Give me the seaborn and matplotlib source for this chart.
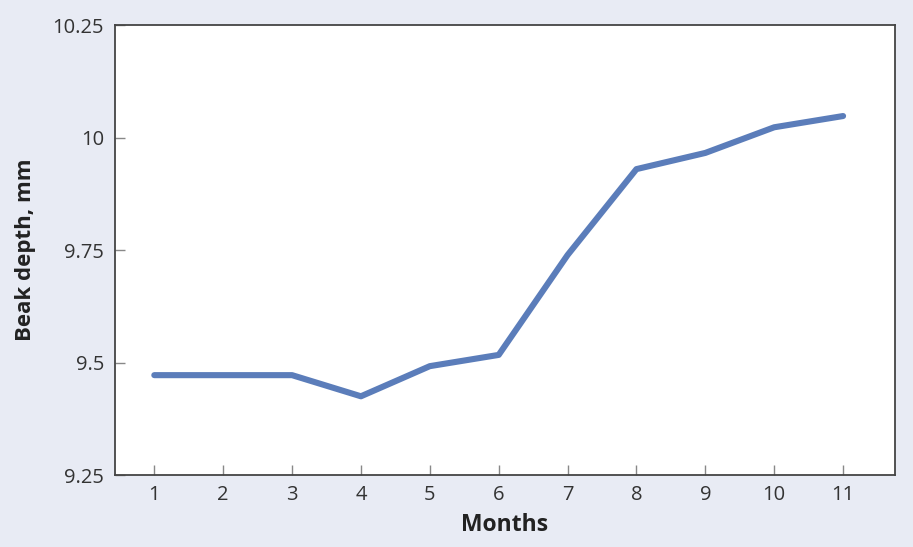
import numpy as np
import pandas as pd
import seaborn as sns
import matplotlib.pyplot as plt

months = [1, 2, 3, 4, 5, 6, 7, 8, 9, 10, 11]
beak_depth = [9.472, 9.472, 9.472, 9.425, 9.492, 9.517, 9.739, 9.930, 9.966, 10.023, 10.048]
y_ticks = [9.25, 9.5, 9.75, 10, 10.25]
y_labels = ["9.25", "9.5", "9.75", "10", "10.25"]

df = pd.DataFrame({"Months": months, "Beak depth, mm": beak_depth})

sns.set_style("white")
plt.rcParams['font.family'] = ['Open Sans', 'DejaVu Sans']

bg = "#e8ebf4"
fig = plt.figure(figsize=(9.13, 5.47), dpi=100, facecolor=bg)
ax = fig.add_axes([0.126, 0.1316, 0.854, 0.8224])
ax.set_facecolor("white")

sns.lineplot(data=df, x="Months", y="Beak depth, mm", ax=ax, color="#5b7dba", linewidth=4.4)

ax.set_xlim(0.43, 11.75)
ax.set_ylim(9.25, 10.25)
ax.set_xticks(months)
ax.set_yticks(y_ticks)
ax.set_yticklabels(y_labels)

for s in ax.spines.values():
    s.set_color("#444444")
    s.set_linewidth(1.3)

ax.tick_params(axis="both", direction="in", length=7, width=1, color="#888888",
               labelsize=14.5, labelcolor="#333333", bottom=True, left=True)
ax.tick_params(axis="x", pad=7)
ax.tick_params(axis="y", pad=8)

ax.set_xlabel("Months", fontsize=16.5, fontweight="bold", color="#222222", labelpad=6)
ax.set_ylabel("Beak depth, mm", fontsize=16, fontweight="bold", color="#222222", labelpad=12)

fig.savefig("out.png", dpi=100, facecolor=bg)
